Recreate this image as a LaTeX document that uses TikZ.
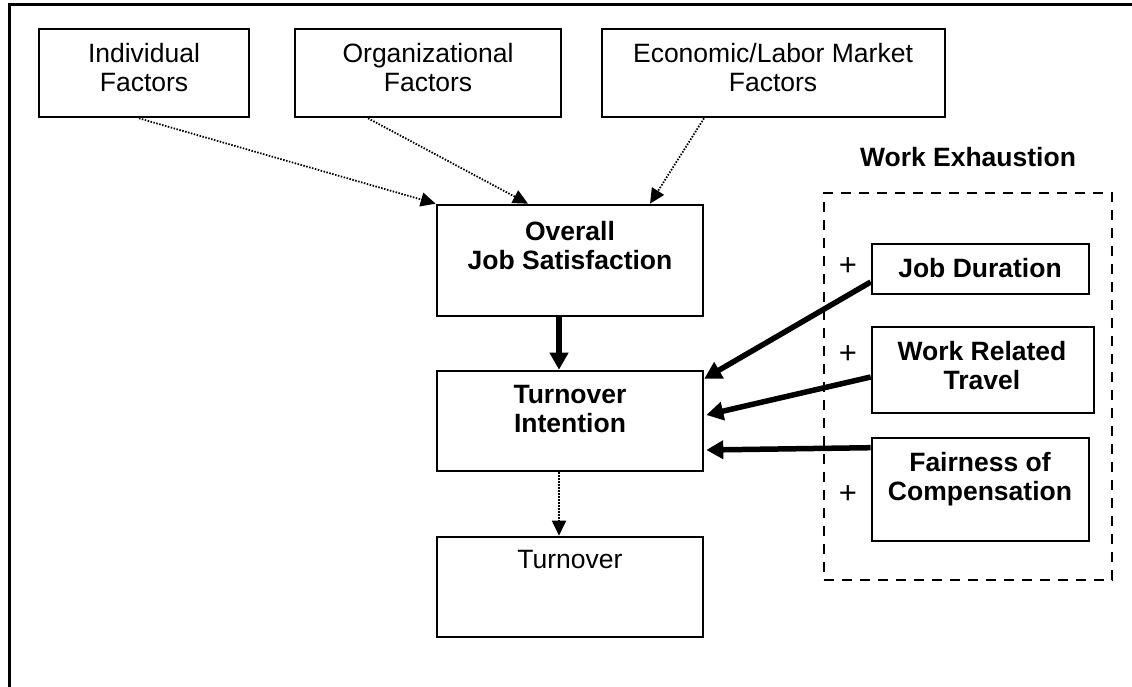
\documentclass[tikz,border=0pt]{standalone}
\usepackage{fontspec}
\setmainfont{Liberation Sans}
\usetikzlibrary{arrows.meta}
\tikzset{
  box/.style={draw, line width=2.6pt, inner sep=0pt},
  txt/.style={inner sep=0pt, anchor=north, align=center, font=\fontsize{26.5}{29.5}\selectfont},
  btxt/.style={txt, font=\fontsize{26.5}{29.5}\selectfont\bfseries},
  dashbox/.style={draw, line width=2.8pt, dash pattern=on 10pt off 8pt, inner sep=0pt},
  dotarrow/.style={line width=1.8pt, dash pattern=on 1.5pt off 1.5pt, -{Triangle[length=15pt,width=14pt]}},
  thickarrow/.style={line width=5.5pt, -{Triangle[length=17pt,width=18pt]}},
  frame/.style={line width=3pt},
  plus/.style={inner sep=0pt, font=\fontsize{31}{31}\selectfont}
}
\begin{document}
\begin{tikzpicture}[x=1pt,y=-1pt]
\useasboundingbox[fill=white] (0,0) rectangle (1132,687);
% outer frame
\coordinate (f1) at (9,687);
\coordinate (f2) at (9,5);
\coordinate (f3) at (1132,5);
\draw[frame] (f1) -- (f2) -- (f3);

% top factor boxes
\node[box, minimum width=210pt, minimum height=88pt] (ind) at (144,73) {};
\node[txt] (indt) at (144,43) {Individual\\Factors};
\node[box, minimum width=266pt, minimum height=88pt] (org) at (428,73) {};
\node[txt] (orgt) at (428,43) {Organizational\\Factors};
\node[box, minimum width=343pt, minimum height=88pt] (eco) at (773.5,73) {};
\node[txt] (ecot) at (773,43) {Economic/Labor Market\\Factors};

% central chain
\node[box, minimum width=266pt, minimum height=111pt] (ojs) at (570,260.5) {};
\node[btxt] (ojst) at (570,221) {Overall\\Job Satisfaction};
\node[box, minimum width=266pt, minimum height=100pt] (ti) at (570,421) {};
\node[btxt] (tit) at (570,385) {Turnover\\Intention};
\node[box, minimum width=266pt, minimum height=100pt] (to) at (570,587) {};
\node[txt] (tot) at (570,550) {Turnover};

% work exhaustion group
\node[dashbox, minimum width=288pt, minimum height=387pt] (we) at (968,386.5) {};
\node[btxt] (wet) at (968,147) {Work Exhaustion};
\node[box, minimum width=217pt, minimum height=50pt] (jd) at (980.5,269) {};
\node[btxt] (jdt) at (980,258) {Job Duration};
\node[box, minimum width=222pt, minimum height=86pt] (wrt) at (983,370) {};
\node[btxt] (wrtt) at (982,341) {Work Related\\Travel};
\node[box, minimum width=217pt, minimum height=103pt] (fc) at (980.5,489.5) {};
\node[btxt] (fct) at (980,452) {Fairness of\\Compensation};
\node[plus] (p1) at (848,267) {+};
\node[plus] (p2) at (848,355) {+};
\node[plus] (p3) at (848,495) {+};

% connectors
\draw[dotarrow] ([xshift=-5pt]ind.south) -- (ojs.north west);
\draw[dotarrow] ([xshift=-60pt]org.south) -- ([xshift=-42pt]ojs.north);
\draw[dotarrow] ([xshift=-69.5pt]eco.south) -- ([xshift=80pt]ojs.north);
\draw[thickarrow] ([xshift=-11pt]ojs.south) -- ([xshift=-11pt]ti.north);
\draw[dotarrow] ([xshift=-11pt]ti.south) -- ([xshift=-11pt]to.north);
\draw[thickarrow] ([yshift=-13pt]jd.west) -- ([yshift=-9pt]ti.north east);
\draw[thickarrow] ([yshift=-7pt]wrt.west) -- ([xshift=2pt,yshift=6pt]ti.east);
\draw[thickarrow] ([yshift=-11pt]fc.north west) -- ([xshift=2pt,yshift=-29pt]ti.east);
\end{tikzpicture}
\end{document}
